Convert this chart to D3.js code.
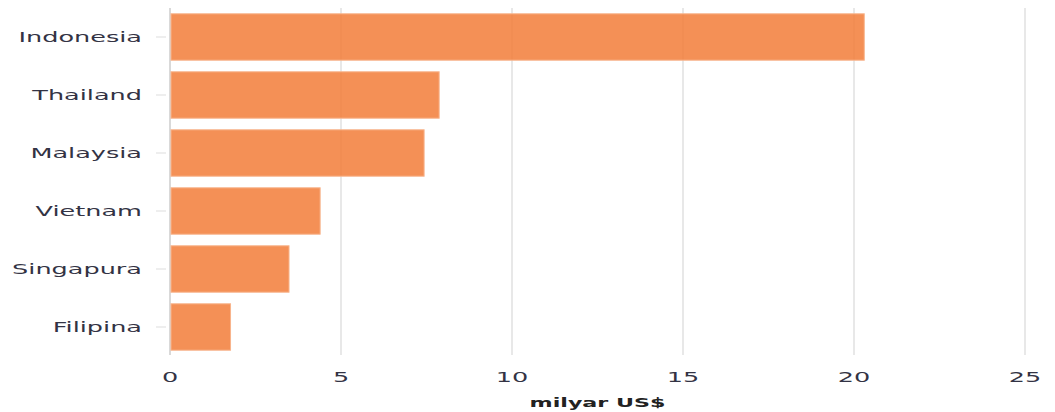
<!DOCTYPE html>
<html>
<head>
<meta charset="utf-8">
<script src="https://cdn.jsdelivr.net/npm/d3@7"></script>
<style>
  body { margin: 0; background: #fff; }
  svg text { font-family: "DejaVu Sans", Verdana, sans-serif; }
</style>
</head>
<body>
<svg id="chart" width="1055" height="412"></svg>
<script>
// data
var countries = ["Indonesia", "Thailand", "Malaysia", "Vietnam", "Singapura", "Filipina"];
var values = [20.3, 7.87, 7.43, 4.39, 3.48, 1.77];
var xTicks = [0, 5, 10, 15, 20, 25];
var axisTitle = "milyar US$";

var svg = d3.select("#chart");
var stretch = 1.75; // wide text look of the original

var x = d3.scaleLinear().domain([0, 25]).range([170, 1025]);
var y = d3.scaleBand().domain(countries).range([8, 356]).paddingInner(0.2).paddingOuter(0.1);

// grid
svg.append("g").selectAll("line")
  .data(xTicks)
  .enter().append("line")
  .attr("x1", function(d) { return x(d); })
  .attr("x2", function(d) { return x(d); })
  .attr("y1", 8).attr("y2", 355)
  .attr("stroke", function(d) { return d === 0 ? "#d9d9d9" : "#e8e8e8"; })
  .attr("stroke-width", 2);

// y ticks
svg.append("g").selectAll("line")
  .data(countries)
  .enter().append("line")
  .attr("x1", 156).attr("x2", 166)
  .attr("y1", function(d) { return y(d) + y.bandwidth() / 2; })
  .attr("y2", function(d) { return y(d) + y.bandwidth() / 2; })
  .attr("stroke", "#dddddd")
  .attr("stroke-width", 1);

// bars
svg.append("g").selectAll("rect")
  .data(values)
  .enter().append("rect")
  .attr("x", x(0) + 1)
  .attr("y", function(d, i) { return y(countries[i]); })
  .attr("width", function(d) { return x(d) - x(0) - 1; })
  .attr("height", y.bandwidth())
  .attr("fill", "rgb(242,124,56)")
  .attr("fill-opacity", 0.85)
  .attr("stroke", "#f8b48c")
  .attr("stroke-width", 1);

// category labels
svg.append("g").selectAll("text")
  .data(countries)
  .enter().append("text")
  .attr("transform", function(d) {
    return "translate(142," + (y(d) + y.bandwidth() / 2) + ") scale(" + stretch + ",1)";
  })
  .attr("dy", "0.36em")
  .attr("text-anchor", "end")
  .attr("font-size", 14.6)
  .attr("fill", "#333344")
  .text(function(d) { return d; });

// x tick labels
svg.append("g").selectAll("text")
  .data(xTicks)
  .enter().append("text")
  .attr("transform", function(d) {
    return "translate(" + x(d) + ",377) scale(" + stretch + ",1)";
  })
  .attr("dy", "0.36em")
  .attr("text-anchor", "middle")
  .attr("font-size", 14.6)
  .attr("fill", "#333344")
  .text(function(d) { return d; });

// axis title
svg.append("text")
  .attr("transform", "translate(" + (x(0) + x(25)) / 2 + ",403) scale(1.85,1)")
  .attr("dy", "0.36em")
  .attr("text-anchor", "middle")
  .attr("font-size", 12)
  .attr("font-weight", "bold")
  .attr("fill", "#222222")
  .text(axisTitle);
</script>
</body>
</html>
